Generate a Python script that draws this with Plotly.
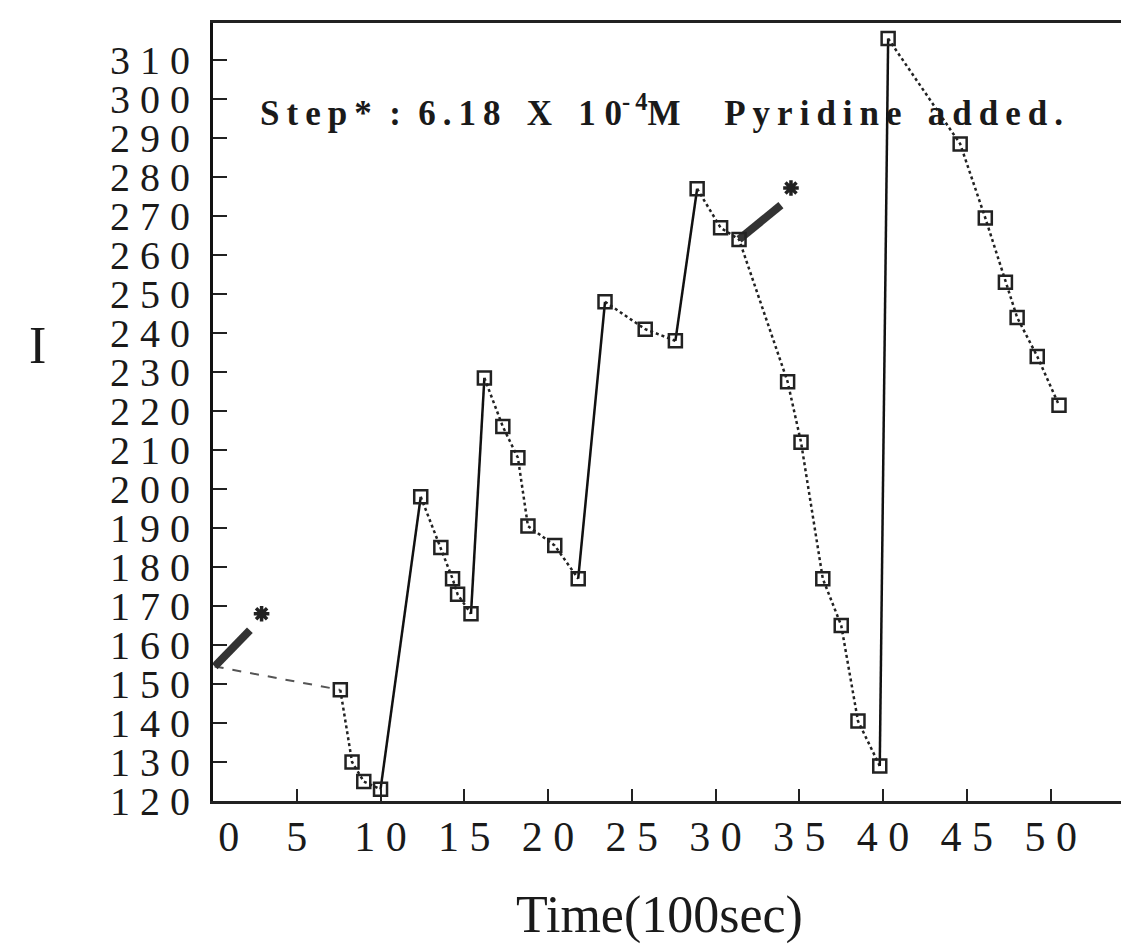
import plotly.graph_objects as go

# Fluorescence intensity I versus time (units of 100 s)
time = [0.1, 7.6, 8.3, 9.0, 10.0, 12.4, 13.6, 14.3, 14.6, 15.4, 16.2, 17.3, 18.2,
        18.8, 20.4, 21.8, 23.4, 25.8, 27.6, 28.9, 30.3, 31.4, 34.3, 35.1, 36.4,
        37.5, 38.5, 39.8, 40.3, 44.6, 46.1, 47.3, 48.0, 49.2, 50.5]
intensity = [154.5, 148.5, 130, 125, 123, 198, 185, 177, 173, 168, 228.5, 216, 208,
             190.5, 185.5, 177, 248, 241, 238, 277, 267, 264, 227.5, 212, 177,
             165, 140.5, 129, 315.5, 288.5, 269.5, 253, 244, 234, 221.5]
# connector style between consecutive readings
segment_style = (["dash"] + ["dot"] * 3 + ["solid"] + ["dot"] * 4 + ["solid"]
                 + ["dot"] * 5 + ["solid"] + ["dot"] * 2 + ["solid"]
                 + ["dot"] * 8 + ["solid"] + ["dot"] * 6)

# pyridine addition steps: start, end of the step trace and the "*" mark
step_x = [[0.1, 2.2], [31.4, 33.9]]
step_y = [[154.5, 163.8], [264, 272.8]]
star_x = [2.9, 34.5]
star_y = [168, 277.2]

x_ticks = [0, 5, 10, 15, 20, 25, 30, 35, 40, 45, 50]
y_ticks = list(range(120, 311, 10))


def spaced(s):
    return " ".join(s)


def loose(word):
    return "\u2009".join(word)


x_ticktext = ["\u00a0\u00a0\u00a00"] + [spaced(str(v)) for v in x_ticks[1:]]
y_ticktext = [spaced(str(v)) for v in y_ticks]

nb = "\u00a0"
step_note = (loose("Step*") + nb * 2 + ":" + nb * 2 + loose("6.18")
             + nb * 3 + "X" + nb * 3 + "1" + nb + "0<sup>-\u20094</sup>M"
             + nb * 5 + loose("Pyridine") + nb * 3 + loose("added."))

line_look = {
    "dash": dict(color="#555555", width=2, dash="dash"),
    "dot": dict(color="#222222", width=2.5, dash="dot"),
    "solid": dict(color="#111111", width=2.5, dash="solid"),
}

fig = go.Figure()

# group consecutive segments with the same style into one trace
i = 0
while i < len(segment_style):
    j = i
    while j + 1 < len(segment_style) and segment_style[j + 1] == segment_style[i]:
        j += 1
    fig.add_trace(go.Scatter(
        x=time[i:j + 2], y=intensity[i:j + 2], mode="lines",
        line=line_look[segment_style[i]], hoverinfo="skip", showlegend=False))
    i = j + 1

# step traces
for sx, sy in zip(step_x, step_y):
    fig.add_trace(go.Scatter(x=sx, y=sy, mode="lines",
                             line=dict(color="#333333", width=8),
                             showlegend=False))

fig.add_trace(go.Scatter(
    x=star_x, y=star_y, mode="markers",
    marker=dict(symbol="asterisk-open", size=13, color="#222222",
                line=dict(color="#222222", width=3.5)),
    showlegend=False))

# readings
fig.add_trace(go.Scatter(
    x=time[1:], y=intensity[1:], mode="markers",
    marker=dict(symbol="square-open", size=13, color="#222222",
                line=dict(color="#222222", width=2.5)),
    showlegend=False))

serif = "Liberation Serif"

fig.update_layout(
    width=1121, height=947,
    margin=dict(l=213, r=0, t=23, b=146),
    paper_bgcolor="white", plot_bgcolor="white",
    font=dict(family=serif, color="#1a1a1a"),
    xaxis=dict(range=[0, 54.2], tickvals=x_ticks, ticktext=x_ticktext,
               ticks="inside", ticklen=12, tickwidth=2, tickcolor="#222",
               showline=True, linecolor="#222", linewidth=2.5, mirror=True,
               showgrid=False, zeroline=False,
               tickfont=dict(family=serif, size=42, color="#1a1a1a"),
               ticklabelstandoff=-3),
    yaxis=dict(range=[120, 319.5], tickvals=y_ticks, ticktext=y_ticktext,
               ticks="inside", ticklen=14, tickwidth=2, tickcolor="#222",
               showline=True, linecolor="#111", linewidth=3,
               showgrid=False, zeroline=False,
               tickfont=dict(family=serif, size=40, color="#1a1a1a"),
               ticklabelstandoff=12),
    annotations=[
        dict(text="I", xref="paper", yref="paper", x=-0.205, y=0.586,
             showarrow=False, font=dict(family=serif, size=52, color="#1a1a1a")),
        dict(text="Time(100sec)", xref="paper", yref="paper", x=0.492, y=-0.1465,
             xanchor="center", yanchor="middle", showarrow=False,
             font=dict(family=serif, size=52, color="#1a1a1a")),
        dict(text=step_note,
             xref="paper", yref="paper", x=0.0496, y=0.888,
             xanchor="left", yanchor="middle", showarrow=False,
             font=dict(family=serif, size=35, color="#1a1a1a", weight="bold")),
    ],
)

fig.write_html("out.html")
